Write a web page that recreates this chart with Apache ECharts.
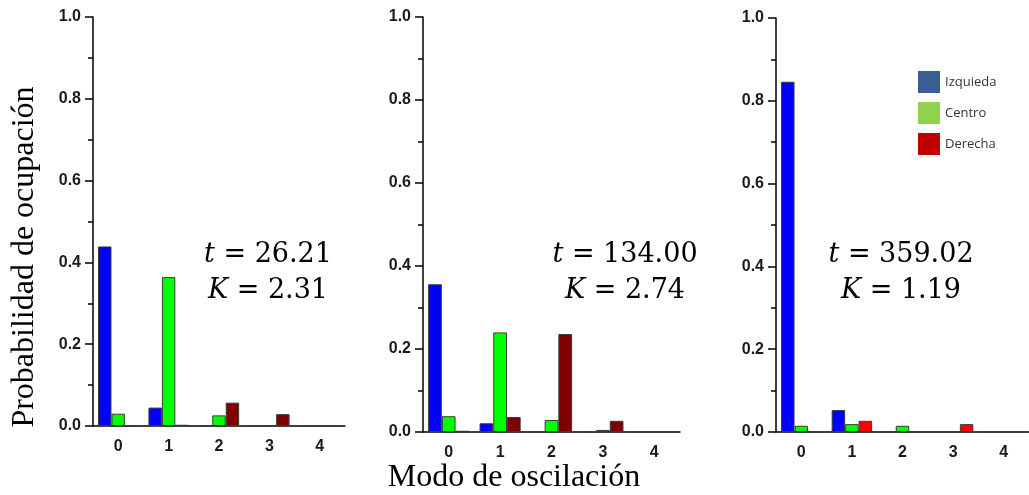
<!DOCTYPE html>
<html>
<head>
<meta charset="utf-8">
<script src="https://cdn.jsdelivr.net/npm/echarts@6/dist/echarts.min.js"></script>
<style>
  html, body { margin: 0; padding: 0; background: #fff; }
  #chart { width: 1029px; height: 495px; }
</style>
</head>
<body>
<div id="chart"></div>
<script>
// modos de oscilación (categorías)
const modos = ['0', '1', '2', '3', '4'];

// panel 1: t = 26.21
const izq1 = [0.439, 0.045, 0.002, 0, 0];
const cen1 = [0.030, 0.364, 0.026, 0.002, 0];
const der1 = [0, 0.003, 0.057, 0.029, 0];
// panel 2: t = 134.00
const izq2 = [0.356, 0.021, 0, 0, 0];
const cen2 = [0.038, 0.240, 0.029, 0.005, 0];
const der2 = [0.003, 0.036, 0.236, 0.027, 0];
// panel 3: t = 359.02
const izq3 = [0.846, 0.053, 0, 0, 0];
const cen3 = [0.015, 0.019, 0.015, 0, 0];
const der3 = [0.002, 0.027, 0, 0.019, 0];

const tiempos = ['26.21', '134.00', '359.02'];
const kValores = ['2.31', '2.74', '1.19'];

const paneles = [
    { izq: izq1, cen: cen1, der: der1, colorDer: '#800000', grid: { left: 93, top: 17, width: 252, height: 409 }, tx: 268 },
    { izq: izq2, cen: cen2, der: der2, colorDer: '#800000', grid: { left: 423, top: 17, width: 257, height: 415 }, tx: 625 },
    { izq: izq3, cen: cen3, der: der3, colorDer: '#ff0000', grid: { left: 776, top: 18, width: 253, height: 414 }, tx: 901 }
];

const chart = echarts.init(document.getElementById('chart'), null, { renderer: 'canvas' });

const labelFont = { fontFamily: 'Liberation Sans', fontWeight: 'bold', fontSize: 16, color: '#1a1a1a' };
const grids = [], xAxes = [], yAxes = [], series = [], graphics = [];

paneles.forEach((p, i) => {
    grids.push(p.grid);
    // eje principal: etiquetas y marcas en el centro
    xAxes.push({
        type: 'category', gridIndex: i, data: modos,
        axisLine: { lineStyle: { color: '#000', width: 1.5 } },
        axisTick: { alignWithLabel: true, length: 8, lineStyle: { color: '#000', width: 1.5 } },
        axisLabel: Object.assign({ margin: 13 }, labelFont),
        splitLine: { show: false }
    });
    // eje secundario: marcas cortas entre categorías
    xAxes.push({
        type: 'category', gridIndex: i, data: modos, position: 'bottom',
        axisLine: { show: false },
        axisTick: { alignWithLabel: false, length: 5, lineStyle: { color: '#000', width: 1.5 } },
        axisLabel: { show: false },
        splitLine: { show: false }
    });
    yAxes.push({
        type: 'value', gridIndex: i, min: 0, max: 1, interval: 0.2,
        axisLine: { show: true, lineStyle: { color: '#000', width: 1.5 } },
        axisTick: { show: true, length: 8, lineStyle: { color: '#000', width: 1.5 } },
        minorTick: { show: true, splitNumber: 2, length: 5, lineStyle: { color: '#000', width: 1.5 } },
        axisLabel: Object.assign({ margin: 12, formatter: v => v.toFixed(1) }, labelFont),
        splitLine: { show: false },
        minorSplitLine: { show: false }
    });
    const base = { type: 'bar', xAxisIndex: i * 2, yAxisIndex: i, barGap: '0%', barCategoryGap: '20%', silent: true };
    const borde = { borderColor: '#3a3a3a', borderWidth: 1 };
    series.push(Object.assign({}, base, { name: 'Izquieda', data: p.izq, itemStyle: Object.assign({ color: '#0000ff' }, borde) }));
    series.push(Object.assign({}, base, { name: 'Centro', data: p.cen, itemStyle: Object.assign({ color: '#00ff00' }, borde) }));
    series.push(Object.assign({}, base, { name: 'Derecha', data: p.der, itemStyle: Object.assign({ color: p.colorDer }, borde) }));

    graphics.push({
        type: 'text', x: p.tx, y: 273,
        style: {
            text: '{i|t} = ' + tiempos[i] + '\n{i|K} = ' + kValores[i],
            align: 'center', verticalAlign: 'middle',
            fontFamily: 'DejaVu Serif', fontSize: 27, lineHeight: 36, fill: '#000',
            rich: { i: { fontFamily: 'DejaVu Serif', fontStyle: 'italic', fontSize: 27, lineHeight: 36 } }
        }
    });
});

// títulos de los ejes
graphics.push({
    type: 'text', x: 25, y: 257, rotation: Math.PI / 2,
    style: { text: 'Probabilidad de ocupación', align: 'center', verticalAlign: 'middle', fontFamily: 'Liberation Serif', fontSize: 32, fill: '#000' }
});
graphics.push({
    type: 'text', x: 514, y: 478,
    style: { text: 'Modo de oscilación', align: 'center', verticalAlign: 'middle', fontFamily: 'Liberation Serif', fontSize: 32, fill: '#000' }
});

chart.setOption({
    animation: false,
    backgroundColor: '#fff',
    grid: grids,
    xAxis: xAxes,
    yAxis: yAxes,
    legend: {
        orient: 'vertical', left: 918, top: 71, padding: 0, itemWidth: 22, itemHeight: 22, itemGap: 9,
        selectedMode: false, icon: 'rect',
        textStyle: { fontFamily: 'Open Sans', fontSize: 13, color: '#333' },
        data: [
            { name: 'Izquieda', itemStyle: { color: '#3a5e91', borderWidth: 0 } },
            { name: 'Centro', itemStyle: { color: '#92d050', borderWidth: 0 } },
            { name: 'Derecha', itemStyle: { color: '#c00000', borderWidth: 0 } }
        ]
    },
    series: series,
    graphic: graphics
});
</script>
</body>
</html>
